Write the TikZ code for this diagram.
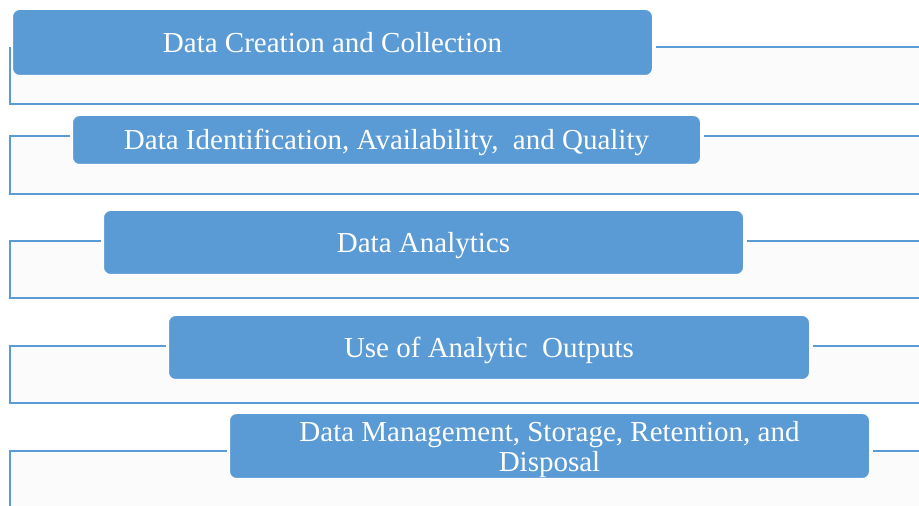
\documentclass[tikz,border=0pt]{standalone}
\usepackage{fontspec}
\setmainfont{Liberation Serif}
\newfontfamily\stagefont{Liberation Serif}
\usetikzlibrary{backgrounds}
\definecolor{boxblue}{HTML}{5B9BD5}
\definecolor{bandfill}{HTML}{FBFBFB}
\begin{document}
\begin{tikzpicture}[x=1pt,y=1pt,
  stage/.style={draw=white, line width=1pt, fill=boxblue, rounded corners=7pt,
    text=white, font=\stagefont\fontsize{29}{29.5}\selectfont, inner sep=0pt,
    align=center, anchor=south west},
  oneline/.style={text height=24pt, text depth=4pt},
  band/.style={draw=boxblue, line width=2.5pt},
  bandbg/.style={fill=bandfill}
]
\useasboundingbox (0,0) rectangle (919,506);
\clip (0,0) rectangle (919,506);

% stage boxes
\node[stage, oneline, minimum width=640pt, minimum height=66pt] (b1) at (12,430) {Data Creation and Collection};
\node[stage, oneline, minimum width=628pt, minimum height=49pt] (b2) at (72,341) {Data Identification, Availability,\ \ and Quality};
\node[stage, oneline, minimum width=640pt, minimum height=64pt] (b3) at (103,231) {Data Analytics};
\node[stage, oneline, minimum width=641pt, minimum height=64pt] (b4) at (168,126) {Use of Analytic\ \ Outputs};
\node[stage, minimum width=640pt, minimum height=65pt, text height=57pt, text depth=6.5pt] (b5) at (229,27) {Data Management, Storage, Retention, and\\Disposal};

% band corners
\coordinate (t1l) at (10,459); \coordinate (t1r) at (930,459);
\coordinate (u1l) at (10,402); \coordinate (u1r) at (930,402);
\coordinate (t2l) at (10,370); \coordinate (t2r) at (930,370);
\coordinate (u2l) at (10,312); \coordinate (u2r) at (930,312);
\coordinate (t3l) at (10,265); \coordinate (t3r) at (930,265);
\coordinate (u3l) at (10,208); \coordinate (u3r) at (930,208);
\coordinate (t4l) at (10,160); \coordinate (t4r) at (930,160);
\coordinate (u4l) at (10,103); \coordinate (u4r) at (930,103);
\coordinate (t5l) at (10,55);  \coordinate (t5r) at (930,55);
\coordinate (u5l) at (10,-20); \coordinate (u5r) at (930,-20);

\begin{scope}[on background layer]
  \foreach \i in {1,...,5} {
    \fill[bandbg] (t\i l) rectangle (u\i r);
    \draw[band] (b\i.west |- t\i l) ++(-2,0) -- (t\i l) -- (u\i l) -- (u\i r);
    \draw[band] (b\i.east |- t\i r) ++(3,0) -- (t\i r);
  }
\end{scope}
\end{tikzpicture}
\end{document}
